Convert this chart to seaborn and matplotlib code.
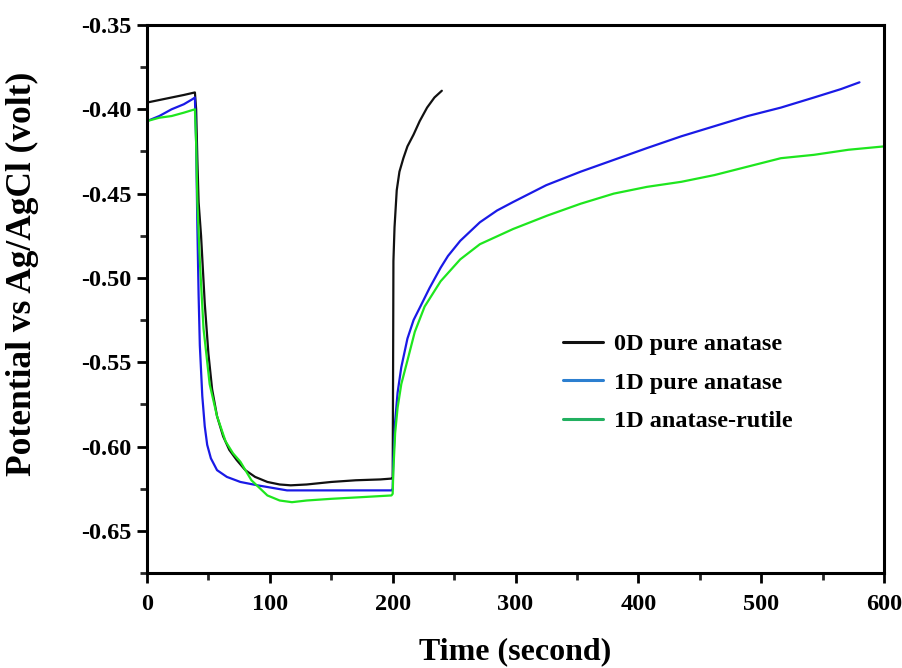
import numpy as np
import pandas as pd
import matplotlib
matplotlib.use("Agg")
import matplotlib.pyplot as plt
from matplotlib.lines import Line2D
from matplotlib.ticker import MultipleLocator
import seaborn as sns

# values (time in s, potential in V vs Ag/AgCl)
t_0d = [0, 10, 20, 30, 39, 40, 41, 42, 44, 47, 50, 53, 57, 62, 67, 73, 80, 88, 98, 108,
        117, 130, 150, 170, 190, 199, 200, 200.3, 200.6, 201.5, 203.3, 205.5, 208.7, 212,
        217, 222, 228, 234, 240]
v_0d = [-0.396, -0.3945, -0.393, -0.3915, -0.390, -0.400, -0.430, -0.455, -0.475, -0.515,
        -0.545, -0.566, -0.582, -0.594, -0.602, -0.608, -0.614, -0.618, -0.621, -0.6225,
        -0.623, -0.6225, -0.621, -0.620, -0.6195, -0.619, -0.619, -0.560, -0.490, -0.470,
        -0.448, -0.437, -0.429, -0.422, -0.415, -0.407, -0.399, -0.393, -0.389]

t_1d = [0, 10, 20, 30, 37, 39, 40, 41, 42, 43, 45, 47, 49, 52, 57, 65, 76, 90, 114, 140,
        170, 199, 200, 200.5, 202, 204, 207, 212, 217, 222.5, 230, 239, 245, 255, 271, 285,
        298, 325, 353, 380, 407, 435, 462, 489, 516, 543, 565, 580]
v_1d = [-0.407, -0.404, -0.400, -0.397, -0.394, -0.393, -0.420, -0.470, -0.510, -0.540,
        -0.570, -0.588, -0.599, -0.607, -0.614, -0.618, -0.621, -0.623, -0.626, -0.626,
        -0.626, -0.626, -0.625, -0.609, -0.585, -0.568, -0.553, -0.536, -0.525, -0.517,
        -0.506, -0.494, -0.487, -0.478, -0.467, -0.460, -0.455, -0.445, -0.437, -0.430,
        -0.423, -0.416, -0.410, -0.404, -0.399, -0.393, -0.388, -0.384]

t_ar = [0, 10, 20, 30, 39, 40, 41, 43, 46, 51, 57, 64, 70, 76, 85, 98, 108, 118, 130, 150,
        175, 199, 200, 200.5, 202, 204, 207, 212, 218, 226, 239, 255, 271, 298, 326, 353,
        380, 407, 435, 462, 489, 516, 543, 571, 600]
v_ar = [-0.407, -0.405, -0.404, -0.402, -0.400, -0.420, -0.455, -0.490, -0.530, -0.563,
        -0.582, -0.597, -0.604, -0.609, -0.620, -0.629, -0.632, -0.633, -0.632, -0.631,
        -0.630, -0.629, -0.628, -0.615, -0.592, -0.577, -0.563, -0.549, -0.532, -0.517,
        -0.502, -0.489, -0.480, -0.471, -0.463, -0.456, -0.450, -0.446, -0.443, -0.439,
        -0.434, -0.429, -0.427, -0.424, -0.422]

labels = ["0D pure anatase", "1D pure anatase", "1D anatase-rutile"]
line_colors = ["#111111", "#1a1ae6", "#1ee61e"]
legend_colors = ["#111111", "#2c7fd0", "#22b060"]

sns.set_style("ticks")
plt.rcParams["font.family"] = ["Liberation Serif", "DejaVu Serif"]
plt.rcParams["font.weight"] = "bold"
plt.rcParams["text.color"] = "black"
plt.rcParams["axes.labelcolor"] = "black"

fig = plt.figure(figsize=(9.03, 6.68), dpi=100)
ax = fig.add_axes([0.1628, 0.1422, 0.8162, 0.8204])

series = [(t_0d, v_0d), (t_1d, v_1d), (t_ar, v_ar)]
for (t, v), lab, c in zip(series, labels, line_colors):
    df = pd.DataFrame({"t": t, "v": v})
    sns.lineplot(data=df, x="t", y="v", ax=ax, color=c, linewidth=1.6,
                 sort=False, estimator=None, legend=False)

ax.set_xlim(0, 600)
ax.set_ylim(-0.675, -0.35)
ax.xaxis.set_major_locator(MultipleLocator(100))
ax.xaxis.set_minor_locator(MultipleLocator(50))
ax.yaxis.set_major_locator(MultipleLocator(0.05))
ax.yaxis.set_minor_locator(MultipleLocator(0.025))
ax.yaxis.set_major_formatter(matplotlib.ticker.FormatStrFormatter("%.2f"))

for s in ax.spines.values():
    s.set_linewidth(2.2)
    s.set_color("black")
ax.tick_params(which="major", direction="out", length=7, width=2, labelsize=17.5,
               colors="black", pad=4)
ax.tick_params(which="minor", direction="out", length=5, width=2)
ax.tick_params(axis="x", which="major", pad=8)
for lb in ax.get_xticklabels() + ax.get_yticklabels():
    lb.set_fontweight("bold")

ax.set_xlabel("Time (second)", fontsize=23, fontweight="bold", labelpad=16)
ax.set_ylabel("Potential vs Ag/AgCl (volt)", fontsize=25.5, fontweight="bold")
ax.yaxis.set_label_coords(-0.147, 0.545)

handles = [Line2D([0], [0], color=c, linewidth=2.2) for c in legend_colors]
ax.legend(handles, labels, loc="center left", bbox_to_anchor=(0.535, 0.347), frameon=False,
          prop={"family": "Liberation Serif", "weight": "bold", "size": 17.5},
          handlelength=1.65, handletextpad=0.45, labelspacing=0.68)

fig.savefig("out.png", dpi=100)
